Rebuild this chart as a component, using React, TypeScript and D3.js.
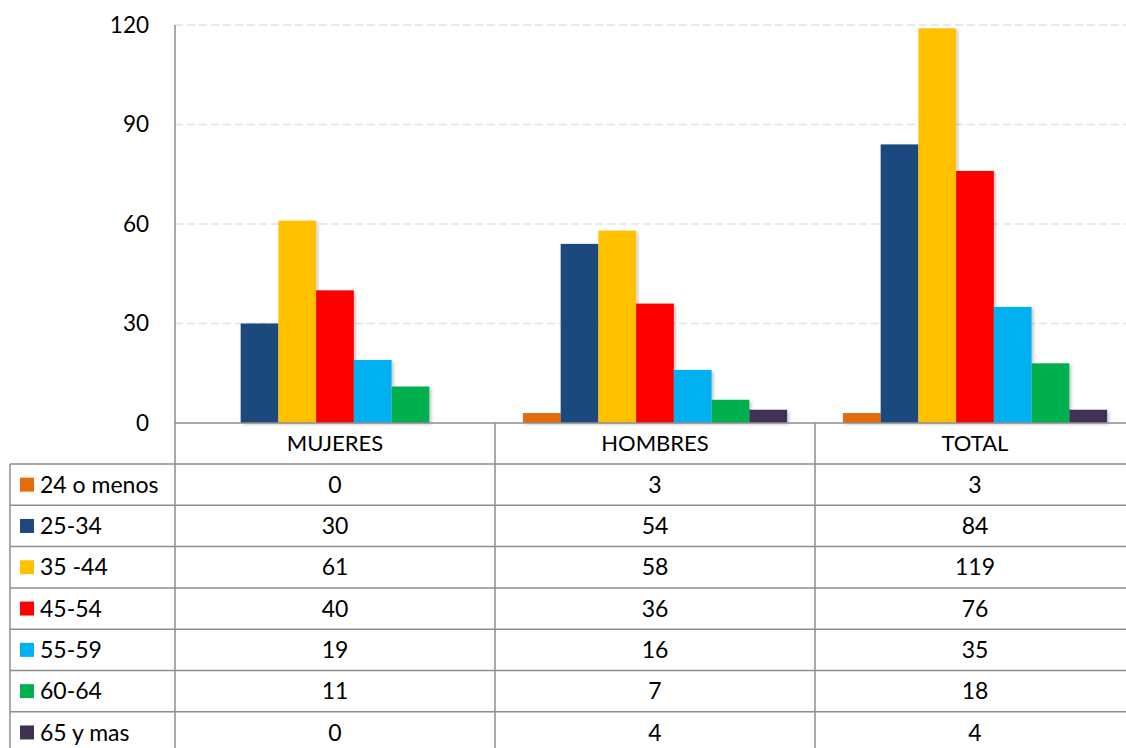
import React from "react";
import * as d3 from "d3";

const categories = ["MUJERES", "HOMBRES", "TOTAL"];
const series = ["24 o menos", "25-34", "35 -44", "45-54", "55-59", "60-64", "65 y mas"];
const seriesColors = ["#E46C0A", "#1F497D", "#FFC000", "#FF0000", "#00B0F0", "#00B050", "#403151"];
// values[seriesIndex][categoryIndex]
const values = [
  [0, 3, 3],
  [30, 54, 84],
  [61, 58, 119],
  [40, 36, 76],
  [19, 16, 35],
  [11, 7, 18],
  [0, 4, 4],
];
const yTicks = [0, 30, 60, 90, 120];

const W = 1126;
const H = 748;
const plotLeft = 175;
const plotRight = 1135;
const plotTop = 25;
const plotBottom = 423;
const legendLeft = 10;
const headerBottom = 464;
const rowH = 41.3;
const FONT = "Lato, 'Open Sans', sans-serif";
const lineColor = "#8e8e8e";
const FS = 23;

export default function App() {
  const x0 = d3.scaleBand<string>().domain(categories).range([plotLeft, plotRight]).padding(0);
  const x1 = d3
    .scaleBand<string>()
    .domain(series)
    .range([0, x0.bandwidth()])
    .paddingInner(0)
    .paddingOuter(0.74);
  const y = d3.scaleLinear().domain([0, 120]).range([plotBottom, plotTop]);

  const rowY = (i: number) => headerBottom + i * rowH;

  return (
    <svg
      width={W}
      height={H}
      style={{ position: "absolute", left: 0, top: 0, background: "#fff" }}
      fontFamily={FONT}
    >
      <defs>
        <filter id="barShadow" x="-20%" y="-5%" width="150%" height="115%">
          <feDropShadow dx="2" dy="1.5" stdDeviation="1.5" floodColor="#000" floodOpacity="0.22" />
        </filter>
      </defs>

      {/* gridlines */}
      {yTicks
        .filter((t) => t > 0)
        .map((t) => (
          <line
            key={"g" + t}
            x1={plotLeft}
            x2={W}
            y1={y(t)}
            y2={y(t)}
            stroke="#dbe3f1"
            strokeWidth={1.5}
            strokeDasharray="8,4"
          />
        ))}

      {/* y tick labels */}
      {yTicks.map((t) => (
        <text
          key={"t" + t}
          x={149}
          y={y(t)}
          dy="0.35em"
          textAnchor="end"
          fontSize={22.5}
          fill="#000"
        >
          {t}
        </text>
      ))}

      {/* bars */}
      <g filter="url(#barShadow)">
        {series.map((s, si) =>
          categories.map((c, ci) => {
            const v = values[si][ci];
            if (v <= 0) return null;
            return (
              <rect
                key={s + c}
                x={(x0(c) ?? 0) + (x1(s) ?? 0)}
                y={y(v)}
                width={x1.bandwidth()}
                height={plotBottom - y(v)}
                fill={seriesColors[si]}
              />
            );
          })
        )}
      </g>

      {/* axis and data table grid */}
      <g stroke={lineColor} strokeWidth={1.5} fill="none">
        <line x1={plotLeft} x2={plotLeft} y1={plotTop} y2={H} />
        <line x1={plotLeft} x2={plotRight} y1={plotBottom} y2={plotBottom} />
        {categories.map((c) => (
          <line key={"v" + c} x1={(x0(c) ?? 0) + x0.bandwidth()} x2={(x0(c) ?? 0) + x0.bandwidth()} y1={plotBottom} y2={H} />
        ))}
        <line x1={legendLeft} x2={legendLeft} y1={headerBottom} y2={H} />
        {series.map((s, i) => (
          <line key={"h" + s} x1={legendLeft} x2={plotRight} y1={rowY(i)} y2={rowY(i)} />
        ))}
      </g>

      {/* header labels */}
      {categories.map((c) => (
        <text
          key={"c" + c}
          x={(x0(c) ?? 0) + x0.bandwidth() / 2}
          y={(plotBottom + headerBottom) / 2}
          dy="0.35em"
          textAnchor="middle"
          fontSize={22}
          fill="#000"
        >
          {c}
        </text>
      ))}

      {/* table rows */}
      {series.map((s, si) => {
        const cy = rowY(si) + rowH / 2;
        return (
          <g key={"r" + s}>
            <rect x={20} y={cy - 7} width={14} height={14} fill={seriesColors[si]} />
            <text x={40} y={cy} dy="0.35em" fontSize={FS} fill="#000">
              {s}
            </text>
            {categories.map((c, ci) => (
              <text
                key={c}
                x={(x0(c) ?? 0) + x0.bandwidth() / 2}
                y={cy}
                dy="0.35em"
                textAnchor="middle"
                fontSize={FS}
                fill="#000"
              >
                {values[si][ci]}
              </text>
            ))}
          </g>
        );
      })}
    </svg>
  );
}
